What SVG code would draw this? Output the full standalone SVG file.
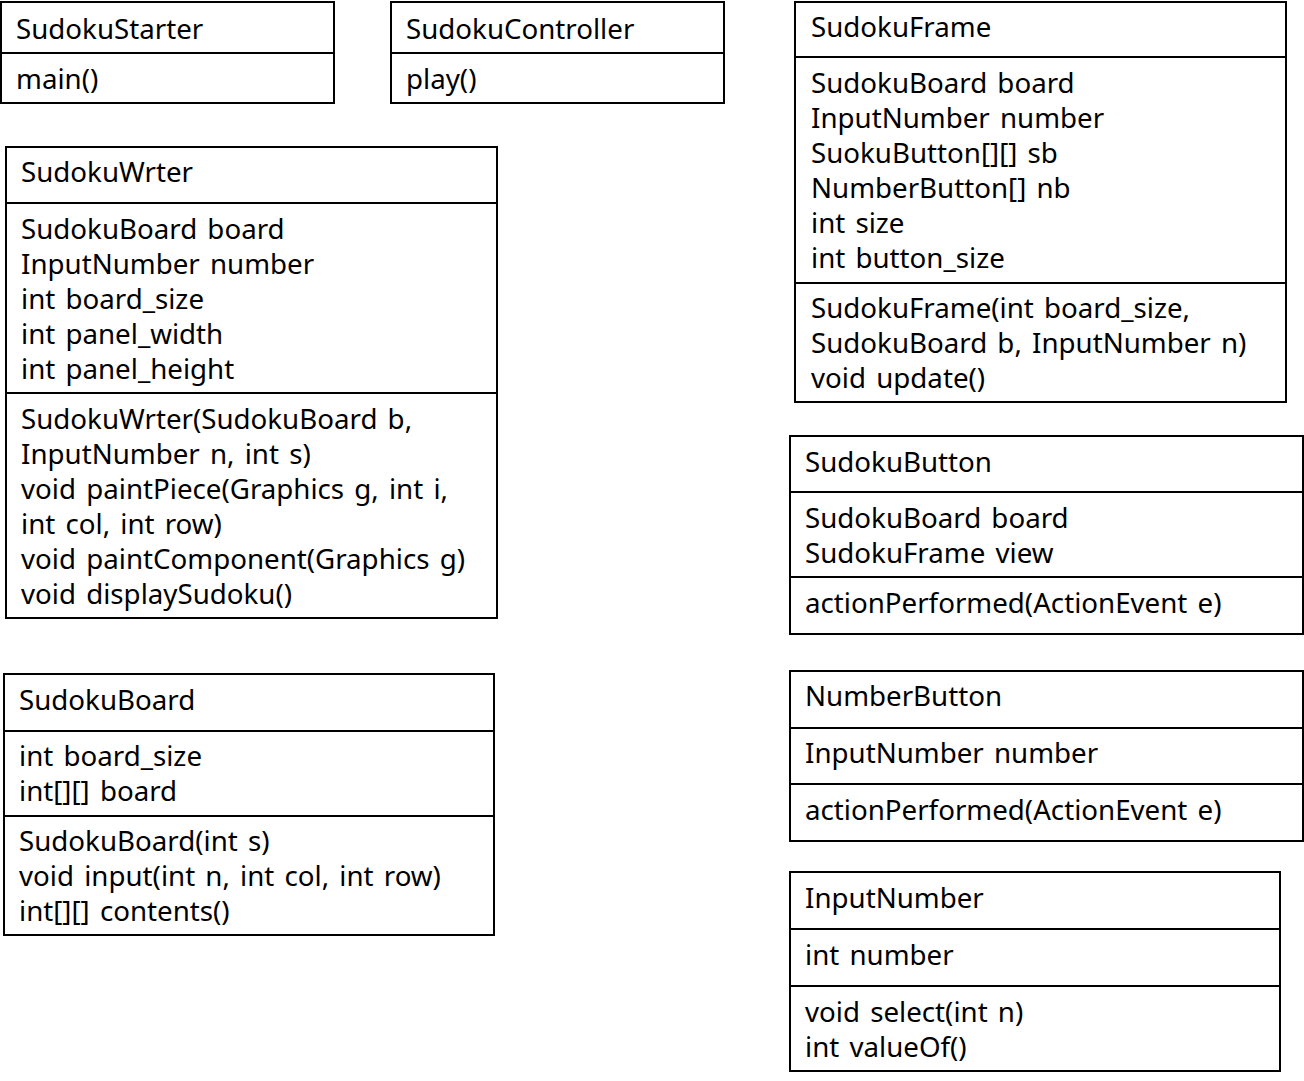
<svg xmlns="http://www.w3.org/2000/svg" width="1304" height="1081" viewBox="0 0 1304 1081">
<style>
rect{fill:#fff;stroke:#000;stroke-width:2}
line{stroke:#000;stroke-width:2}
text{font-family:"Noto Sans","Noto Sans CJK KR",sans-serif;font-size:27.7px;word-spacing:3px;fill:#000}
</style>
<rect x="0" y="0" width="1304" height="1081" style="stroke:none"/>
<g id="SudokuStarter">
<rect x="1" y="2" width="333" height="101"/>
<line x1="1" y1="53" x2="334" y2="53"/>
<text x="16" y="39">SudokuStarter</text>
<text x="16" y="89">main()</text>
</g>
<g id="SudokuController">
<rect x="391" y="2" width="333" height="101"/>
<line x1="391" y1="53" x2="724" y2="53"/>
<text x="406" y="39">SudokuController</text>
<text x="406" y="89">play()</text>
</g>
<g id="SudokuFrame">
<rect x="795" y="2" width="491" height="400"/>
<line x1="795" y1="57" x2="1286" y2="57"/>
<line x1="795" y1="283" x2="1286" y2="283"/>
<text x="811" y="37">SudokuFrame</text>
<text x="811" y="93">SudokuBoard board</text>
<text x="811" y="128">InputNumber number</text>
<text x="811" y="163">SuokuButton[][] sb</text>
<text x="811" y="198">NumberButton[] nb</text>
<text x="811" y="233">int size</text>
<text x="811" y="268">int button_size</text>
<text x="811" y="318">SudokuFrame(int board_size,</text>
<text x="811" y="353">SudokuBoard b, InputNumber n)</text>
<text x="811" y="388">void update()</text>
</g>
<g id="SudokuWrter">
<rect x="6" y="147" width="491" height="471"/>
<line x1="6" y1="203" x2="497" y2="203"/>
<line x1="6" y1="393" x2="497" y2="393"/>
<text x="21" y="182">SudokuWrter</text>
<text x="21" y="239">SudokuBoard board</text>
<text x="21" y="274">InputNumber number</text>
<text x="21" y="309">int board_size</text>
<text x="21" y="344">int panel_width</text>
<text x="21" y="379">int panel_height</text>
<text x="21" y="429">SudokuWrter(SudokuBoard b,</text>
<text x="21" y="464">InputNumber n, int s)</text>
<text x="21" y="499">void paintPiece(Graphics g, int i,</text>
<text x="21" y="534">int col, int row)</text>
<text x="21" y="569">void paintComponent(Graphics g)</text>
<text x="21" y="604">void displaySudoku()</text>
</g>
<g id="SudokuBoard">
<rect x="4" y="674" width="490" height="261"/>
<line x1="4" y1="731" x2="494" y2="731"/>
<line x1="4" y1="816" x2="494" y2="816"/>
<text x="19" y="710">SudokuBoard</text>
<text x="19" y="766">int board_size</text>
<text x="19" y="801">int[][] board</text>
<text x="19" y="851">SudokuBoard(int s)</text>
<text x="19" y="886">void input(int n, int col, int row)</text>
<text x="19" y="921">int[][] contents()</text>
</g>
<g id="SudokuButton">
<rect x="790" y="436" width="513" height="198"/>
<line x1="790" y1="492" x2="1303" y2="492"/>
<line x1="790" y1="577" x2="1303" y2="577"/>
<text x="805" y="472">SudokuButton</text>
<text x="805" y="528">SudokuBoard board</text>
<text x="805" y="563">SudokuFrame view</text>
<text x="805" y="613">actionPerformed(ActionEvent e)</text>
</g>
<g id="NumberButton">
<rect x="790" y="671" width="513" height="170"/>
<line x1="790" y1="728" x2="1303" y2="728"/>
<line x1="790" y1="784" x2="1303" y2="784"/>
<text x="805" y="706">NumberButton</text>
<text x="805" y="763">InputNumber number</text>
<text x="805" y="820">actionPerformed(ActionEvent e)</text>
</g>
<g id="InputNumber">
<rect x="790" y="872" width="490" height="199"/>
<line x1="790" y1="929" x2="1280" y2="929"/>
<line x1="790" y1="986" x2="1280" y2="986"/>
<text x="805" y="908">InputNumber</text>
<text x="805" y="965">int number</text>
<text x="805" y="1022">void select(int n)</text>
<text x="805" y="1057">int valueOf()</text>
</g>
<g id="connectors"></g>
</svg>
